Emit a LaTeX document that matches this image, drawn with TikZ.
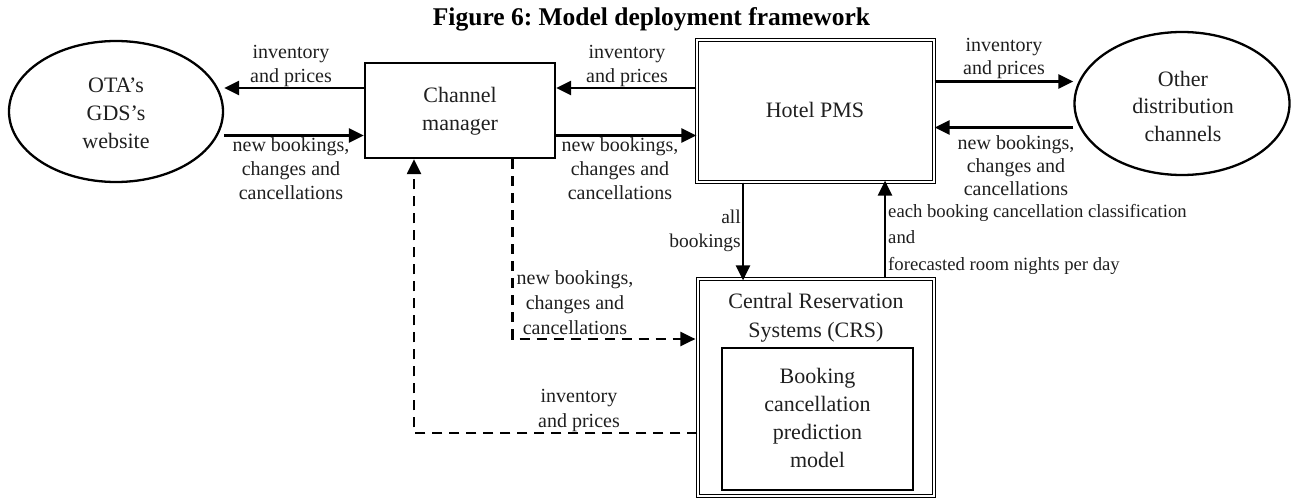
\documentclass[tikz,border=0pt]{standalone}
\usepackage{fontspec}
\setmainfont{Liberation Serif}
\usetikzlibrary{arrows.meta,shapes.geometric}
\frenchspacing
\begin{document}
\begin{tikzpicture}[x=1pt,y=-1pt,
  lbl/.style={font=\fontsize{20}{24}\selectfont, align=center, inner sep=0pt, text=black!88},
  ntx/.style={font=\fontsize{22}{28}\selectfont, align=center, inner sep=0pt, text=black!88},
  sbox/.style={draw, line width=2.3pt, inner sep=0pt},
  dbox/.style={draw, double, line width=1.2pt, double distance=2pt, inner sep=0pt},
  ell/.style={draw, ellipse, line width=2.3pt, inner sep=0pt},
  arr/.style={line width=2.6pt, -{Triangle[length=15pt,width=14pt]}},
  dsh/.style={line width=2.3pt, dash pattern=on 10pt off 7pt, -{Triangle[length=15pt,width=14pt]}}
]
\useasboundingbox (0,0) rectangle (1292,500);

% title
\node[font=\fontsize{25.5}{30}\selectfont\bfseries, inner sep=0pt] (title) at (651.5,19) {Figure 6: Model deployment framework};

% main nodes
\node[ell, minimum width=214pt, minimum height=141pt] (ota) at (116,111.5) {};
\node[ntx, font=\fontsize{22}{28}\selectfont] (otat) at (116,113.5) {OTA’s\\GDS’s\\website};

\node[sbox, minimum width=190pt, minimum height=95pt] (cm) at (460,110.5) {};
\node[ntx] (cmt) at (460,111) {Channel\\manager};

\node[dbox, minimum width=237pt, minimum height=142pt] (pms) at (815.5,111) {};
\node[ntx] (pmst) at (815,110) {Hotel PMS};

\node[ell, minimum width=215pt, minimum height=143pt] (oth) at (1182,103.5) {};
\node[ntx, font=\fontsize{22}{27.5}\selectfont] (otht) at (1183,106) {Other\\distribution\\channels};

\node[dbox, minimum width=236pt, minimum height=217pt] (crs) at (816,387.5) {};
\node[ntx, font=\fontsize{22}{29}\selectfont] (crst) at (816,317.5) {Central Reservation\\Systems (CRS)};
\node[draw, line width=2.6pt, inner sep=0pt, minimum width=191pt, minimum height=142pt] (mdl) at (817.5,419) {};
\node[ntx] (mdlt) at (817.5,418) {Booking\\cancellation\\prediction\\model};

% helper coordinates
\coordinate (r88) at (0,88);
\coordinate (r135) at (0,135.5);
\coordinate (r81) at (0,81.5);
\coordinate (r127) at (0,127.5);
\coordinate (c743) at (743,0);
\coordinate (c885) at (885,0);
\coordinate (c513) at (512.5,0);
\coordinate (c414) at (414,0);
\coordinate (r339) at (0,339);
\coordinate (r433) at (0,433);

% solid connectors
\draw[arr] (cm.west |- r88) -- (ota.east |- r88);
\draw[arr] (ota.east |- r135) -- (cm.west |- r135);
\draw[arr] (pms.west |- r88) -- (cm.east |- r88);
\draw[arr] (cm.east |- r135) -- (pms.west |- r135);
\draw[arr] (pms.east |- r81) -- (oth.west |- r81);
\draw[arr] (oth.west |- r127) -- (pms.east |- r127);
\draw[arr] (pms.south -| c743) -- ([yshift=-2pt]crs.north -| c743);
\draw[arr] (crs.north -| c885) -- ([yshift=2pt]pms.south -| c885);

% dashed connectors
\draw[dsh] (cm.south -| c513) |- ([xshift=-2pt]crs.west |- r339);
\draw[dsh] (crs.west |- r433) -| (cm.south -| c414);

% labels
\node[lbl] (l1) at (291,66) {inventory\\and prices};
\node[lbl] (l2) at (291,169) {new bookings,\\changes and\\cancellations};
\node[lbl] (l3) at (627,66) {inventory\\and prices};
\node[lbl] (l4) at (620,169) {new bookings,\\changes and\\cancellations};
\node[lbl, font=\fontsize{20}{23}\selectfont] (l5) at (1004,58.5) {inventory\\and prices};
\node[lbl, font=\fontsize{20}{23}\selectfont] (l6) at (1016,165.5) {new bookings,\\changes and\\cancellations};
\node[lbl, align=right, anchor=east, font=\fontsize{19.5}{24}\selectfont] (l7) at (741,231) {all\\bookings};
\node[lbl, align=left, anchor=west, font=\fontsize{18.7}{26.5}\selectfont] (l8) at (888,239) {each booking cancellation classification\\and\\forecasted room nights per day};
\node[lbl, font=\fontsize{20}{25}\selectfont] (l9) at (575,303) {new bookings,\\changes and\\cancellations};
\node[lbl, font=\fontsize{20}{25}\selectfont] (l10) at (579,410.5) {inventory\\and prices};
\end{tikzpicture}
\end{document}
